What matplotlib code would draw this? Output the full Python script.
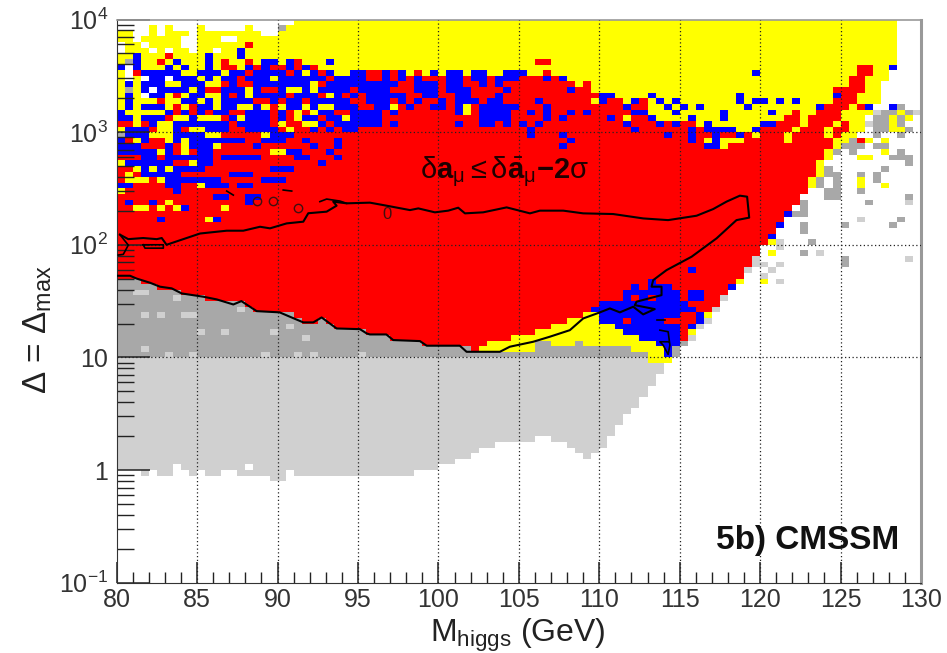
import numpy as np
import matplotlib
matplotlib.use('Agg')
import matplotlib.pyplot as plt
from matplotlib.colors import ListedColormap

plt.rcParams['font.family'] = ['Liberation Sans', 'DejaVu Sans']
plt.rcParams['mathtext.fontset'] = 'custom'
plt.rcParams['mathtext.rm'] = 'Liberation Sans'
plt.rcParams['mathtext.it'] = 'Liberation Sans'
plt.rcParams['mathtext.bf'] = 'Liberation Sans:bold'

# histogram: 100 x 100 bins, row 0 is the top row (delta 10^4)
mass_edges = np.linspace(80, 130, 101)
delta_edges = np.logspace(4, -1, 101)

# first row of each band, one value per mass bin
red_top = [9, 9, 9, 9, 9, 9, 9, 9, 9, 9,
           9, 9, 9, 9, 9, 9, 9, 9, 9, 9,
           9, 9, 9, 9, 9, 9, 9, 9, 9, 9,
           9, 9, 9, 10, 10, 10, 10, 10, 10, 10,
           10, 10, 10, 10, 10, 10, 10, 10, 10, 10,
           10, 10, 10, 10, 10, 10, 11, 12, 11, 13,
           13, 13, 14, 15, 15, 14, 17, 18, 18, 18,
           18, 17, 19, 19, 19, 20, 20, 21, 20, 19,
           19, 19, 18, 17, 16, 19, 17, 16, 15, 12,
           12, 10, 8, 8, 15, 11, 9, 0, 0, 0]
red_bottom = [46, 46, 46, 47, 47, 48, 48, 48, 49, 49,
              49, 50, 50, 50, 50, 50, 51, 52, 52, 52,
              52, 52, 53, 54, 54, 53, 54, 55, 55, 55,
              55, 56, 56, 56, 57, 57, 57, 57, 58, 58,
              58, 58, 58, 58, 59, 58, 57, 57, 57, 56,
              56, 56, 55, 55, 54, 54, 53, 53, 52, 52,
              58, 58, 58, 58, 59, 59, 59, 59, 59, 59,
              57, 56, 53, 52, 51, 49, 47, 46, 44, 42,
              40, 38, 36, 34, 33, 31, 28, 25, 23, 21,
              16, 15, 13, 10, 15, 11, 9, 0, 0, 0]
yellow_bottom = [46, 46, 46, 47, 47, 48, 48, 48, 49, 49,
                 49, 50, 50, 50, 50, 50, 51, 52, 52, 52,
                 52, 52, 53, 54, 54, 53, 54, 55, 55, 55,
                 55, 56, 56, 56, 57, 57, 57, 57, 58, 58,
                 58, 58, 58, 58, 59, 59, 59, 59, 59, 59,
                 59, 59, 57, 57, 58, 58, 58, 57, 58, 58,
                 58, 58, 58, 58, 59, 59, 61, 61, 61, 59,
                 57, 56, 53, 53, 51, 49, 47, 47, 44, 42,
                 40, 38, 36, 34, 33, 31, 30, 28, 25, 23,
                 22, 21, 20, 17, 15, 11, 9, 0, 0, 0]
dark_bottom = [60] * 66 + [61, 61, 61, 60, 58, 56, 53, 53, 51, 49, 47, 47, 44, 42,
                           40, 38, 36, 34, 33, 31, 30, 28, 25, 23,
                           22, 21, 20, 17, 15, 11, 9, 0, 0, 0]
light_bottom = [80, 80, 80, 81, 80, 81, 81, 80, 80, 81,
                80, 81, 81, 80, 80, 81, 81, 81, 81, 82,
                82, 80, 81, 81, 81, 81, 81, 81, 81, 81,
                81, 81, 81, 81, 81, 81, 81, 80, 80, 80,
                79, 79, 78, 78, 77, 76, 76, 75, 75, 75,
                75, 75, 74, 74, 75, 75, 76, 77, 78, 77,
                76, 74, 72, 70, 69, 67, 65, 63, 61, 60,
                58, 56, 53, 53, 51, 49, 47, 47, 44, 42,
                40, 38, 36, 34, 33, 31, 30, 28, 25, 23,
                22, 21, 20, 17, 15, 11, 9, 0, 0, 0]

# scattered cells as (row, first mass bin, last mass bin)
blue_cells = [(5, 15, 15), (6, 2, 2), (6, 11, 11), (6, 15, 15),
              (7, 2, 2), (7, 7, 7), (7, 11, 11), (7, 18, 19), (7, 21, 21), (7, 26, 26),
              (8, 0, 0), (8, 2, 2), (8, 6, 6), (8, 8, 8), (8, 11, 11), (8, 16, 16), (8, 18, 19),
              (8, 21, 21), (8, 23, 23), (8, 96, 96),
              (9, 3, 7), (9, 10, 12), (9, 14, 15), (9, 17, 20), (9, 22, 22), (9, 24, 24), (9, 26, 26),
              (9, 29, 30), (9, 33, 33), (9, 35, 35), (9, 39, 39), (9, 41, 42), (9, 44, 45), (9, 48, 50),
              (9, 79, 79),
              (10, 4, 5), (10, 7, 9), (10, 11, 11), (10, 13, 14), (10, 16, 18), (10, 20, 25), (10, 27, 30),
              (10, 33, 33), (10, 35, 35), (10, 37, 37), (10, 41, 42), (10, 44, 45), (10, 47, 49),
              (10, 53, 53), (10, 55, 55),
              (11, 1, 1), (11, 3, 5), (11, 8, 10), (11, 14, 14), (11, 17, 23), (11, 26, 34), (11, 37, 39),
              (11, 41, 42), (11, 45, 45), (11, 47, 47),
              (12, 3, 3), (12, 5, 8), (12, 10, 10), (12, 13, 15), (12, 17, 17), (12, 20, 20), (12, 23, 23),
              (12, 25, 28), (12, 30, 33), (12, 37, 39), (12, 41, 43), (12, 48, 48), (12, 56, 56),
              (13, 1, 1), (13, 4, 5), (13, 9, 10), (13, 13, 13), (13, 15, 15), (13, 17, 20), (13, 22, 24),
              (13, 27, 27), (13, 29, 29), (13, 31, 35), (13, 38, 39), (13, 42, 43), (13, 47, 47),
              (13, 60, 61), (13, 66, 66), (13, 77, 77), (13, 89, 89),
              (14, 1, 1), (14, 8, 9), (14, 11, 11), (14, 13, 16), (14, 19, 19), (14, 21, 22), (14, 24, 28),
              (14, 31, 33), (14, 35, 35), (14, 37, 37), (14, 40, 40), (14, 42, 44), (14, 46, 47), (14, 52, 52),
              (14, 60, 60), (14, 64, 64), (14, 67, 67), (14, 69, 69), (14, 77, 77), (14, 79, 80), (14, 82, 82),
              (14, 84, 84),
              (15, 1, 1), (15, 3, 5), (15, 10, 11), (15, 13, 14), (15, 17, 17), (15, 21, 22), (15, 24, 24),
              (15, 27, 29), (15, 32, 33), (15, 36, 36), (15, 39, 40), (15, 42, 42), (15, 45, 49), (15, 53, 53),
              (15, 63, 63), (15, 68, 68), (15, 70, 70), (15, 72, 72), (15, 78, 78), (15, 87, 87), (15, 93, 93),
              (15, 96, 96),
              (16, 0, 0), (16, 6, 6), (16, 8, 8), (16, 10, 10), (16, 12, 13), (16, 16, 18), (16, 20, 20),
              (16, 25, 26), (16, 29, 32), (16, 34, 34), (16, 42, 43), (16, 45, 48), (16, 51, 51), (16, 53, 53),
              (16, 56, 56), (16, 58, 58), (16, 64, 65), (16, 69, 69), (16, 75, 75), (16, 81, 81),
              (17, 0, 1), (17, 3, 5), (17, 9, 9), (17, 14, 14), (17, 16, 18), (17, 20, 20), (17, 23, 24),
              (17, 26, 27), (17, 29, 32), (17, 45, 48), (17, 53, 53), (17, 55, 55), (17, 61, 61), (17, 66, 66),
              (17, 71, 71), (17, 75, 75),
              (18, 4, 4), (18, 7, 13), (18, 15, 18), (18, 25, 25), (18, 27, 32), (18, 34, 34), (18, 42, 42),
              (18, 45, 46), (18, 48, 48), (18, 50, 50), (18, 52, 52), (18, 63, 63), (18, 67, 67), (18, 69, 69),
              (18, 73, 73), (18, 80, 81),
              (19, 1, 3), (19, 7, 7), (19, 11, 13), (19, 16, 19), (19, 24, 24), (19, 26, 26), (19, 28, 29),
              (19, 51, 51), (19, 64, 64), (19, 71, 71), (19, 73, 76), (19, 79, 79),
              (20, 1, 3), (20, 7, 10), (20, 19, 21), (20, 51, 51), (20, 55, 55), (20, 68, 68), (20, 71, 71),
              (20, 74, 74), (20, 77, 77), (20, 94, 94),
              (21, 0, 0), (21, 3, 3), (21, 7, 7), (21, 9, 15), (21, 18, 20), (21, 23, 23), (21, 27, 27),
              (21, 56, 56), (21, 71, 71), (21, 74, 74),
              (22, 0, 2), (22, 6, 6), (22, 9, 11), (22, 17, 17), (22, 24, 24), (22, 27, 27), (22, 55, 55),
              (22, 73, 74),
              (23, 0, 4), (23, 6, 6), (23, 10, 11), (23, 21, 22), (23, 26, 26),
              (24, 3, 4), (24, 6, 11), (24, 13, 14), (24, 15, 17), (24, 22, 23), (24, 27, 27),
              (25, 1, 6), (25, 10, 11), (25, 25, 25),
              (26, 3, 3), (26, 5, 5), (26, 7, 8), (26, 9, 10), (26, 19, 21),
              (27, 3, 5), (27, 6, 7), (27, 14, 16),
              (28, 6, 9), (28, 10, 12), (28, 18, 20),
              (29, 0, 1), (29, 6, 7), (29, 11, 13), (29, 15, 16),
              (30, 7, 7), (31, 12, 13), (31, 16, 17), (32, 1, 1), (32, 4, 4), (32, 16, 16), (33, 8, 8),
              (35, 5, 5), (35, 12, 12),
              (34, 83, 83), (36, 82, 82), (38, 81, 81), (44, 71, 71), (46, 66, 66), (47, 76, 76),
              (47, 64, 64), (47, 66, 68),
              (48, 63, 69), (48, 71, 72), (49, 63, 69), (49, 71, 72), (50, 60, 70),
              (51, 59, 71), (52, 60, 69), (52, 72, 72), (53, 60, 69), (53, 72, 72),
              (54, 62, 69), (54, 71, 71), (55, 63, 69), (56, 65, 69), (57, 67, 69), (58, 68, 69), (59, 68, 68)]
yellow_cells = [(4, 1, 3), (6, 0, 1), (7, 0, 0), (9, 0, 0), (9, 8, 9), (9, 13, 13), (9, 23, 23),
                (9, 27, 28), (10, 0, 0), (10, 2, 2), (10, 10, 10), (10, 12, 12), (10, 19, 19),
                (11, 0, 0), (11, 2, 2), (11, 6, 7), (11, 11, 12), (11, 24, 24),
                (12, 0, 0), (12, 2, 2), (12, 9, 9), (12, 16, 16), (12, 21, 22), (12, 24, 24),
                (13, 0, 0), (13, 2, 2), (13, 6, 6), (13, 8, 8), (13, 11, 12), (13, 16, 16), (13, 26, 26),
                (14, 0, 0), (14, 2, 4), (14, 6, 7), (14, 10, 10), (14, 12, 12), (14, 59, 59),
                (15, 0, 0), (15, 2, 2), (15, 6, 6), (15, 8, 8), (15, 12, 12), (15, 15, 16), (15, 18, 18),
                (15, 20, 20), (15, 23, 23), (15, 25, 26), (15, 34, 34), (15, 43, 43), (15, 91, 91),
                (16, 1, 5), (16, 22, 22), (16, 24, 24), (16, 43, 43),
                (17, 2, 2), (17, 7, 8), (17, 10, 12), (17, 15, 15), (17, 22, 22), (17, 28, 28), (17, 63, 63),
                (18, 2, 2), (18, 5, 6), (18, 20, 20), (18, 23, 24), (18, 72, 72), (18, 89, 89),
                (19, 0, 0), (19, 5, 6), (19, 9, 10), (19, 21, 21), (19, 84, 84), (19, 88, 88),
                (20, 4, 6), (20, 11, 12), (20, 18, 18), (20, 79, 79), (20, 83, 83), (20, 88, 88),
                (21, 2, 2), (21, 6, 6), (21, 8, 8), (21, 73, 73), (21, 75, 77), (21, 83, 83),
                (22, 8, 8), (22, 12, 12), (22, 75, 75), (23, 5, 5), (23, 8, 8), (23, 19, 20),
                (25, 0, 0), (25, 9, 9), (26, 2, 2), (26, 4, 4), (26, 6, 6),
                (27, 1, 1), (28, 1, 3), (28, 5, 5), (29, 10, 10), (30, 0, 0), (32, 6, 6),
                (33, 2, 3), (33, 5, 5), (33, 7, 7), (33, 13, 13), (35, 11, 11),
                (24, 92, 93), (28, 92, 92), (29, 92, 92), (29, 95, 95), (21, 93, 93), (21, 95, 95), (23, 95, 95),
                (16, 97, 97), (17, 96, 96), (17, 98, 98), (18, 96, 96), (19, 96, 97),
                (39, 81, 81), (41, 81, 81), (46, 80, 80), (46, 77, 77), (52, 73, 73), (55, 71, 71),
                (54, 60, 61), (55, 60, 62), (56, 60, 64), (57, 60, 66), (58, 64, 67), (59, 66, 67), (60, 66, 68)]
red_cells = [(4, 16, 16), (6, 6, 6), (7, 5, 5), (7, 13, 13), (7, 16, 16), (7, 22, 22), (7, 52, 53),
             (8, 13, 14), (8, 17, 17), (8, 19, 20), (8, 22, 22), (8, 24, 24), (9, 16, 16), (9, 21, 21),
             (9, 25, 25), (9, 34, 34), (9, 37, 37), (9, 53, 53),
             (10, 15, 15), (10, 26, 26), (11, 13, 13), (11, 15, 16), (11, 35, 35), (12, 11, 12), (12, 18, 19),
             (12, 29, 29), (13, 7, 7), (13, 14, 14), (13, 21, 21), (13, 25, 25), (13, 28, 28), (13, 30, 30),
             (13, 41, 41), (14, 5, 5), (14, 17, 18), (14, 20, 20), (14, 23, 23), (14, 29, 30),
             (15, 7, 7), (15, 9, 9), (15, 19, 19), (15, 30, 31), (15, 92, 92),
             (49, 64, 64), (49, 66, 66), (52, 71, 71), (53, 63, 63), (53, 68, 69), (53, 71, 71),
             (54, 70, 70), (55, 70, 70), (56, 70, 70), (18, 90, 90), (19, 89, 90), (20, 89, 89),
             (21, 88, 88), (22, 88, 88), (21, 92, 92)]
white_cells = [(0, 0, 21), (1, 0, 3), (1, 5, 5), (1, 7, 9), (1, 11, 15), (1, 17, 19),
               (2, 2, 3), (2, 5, 5), (2, 9, 9), (2, 18, 19), (3, 2, 2), (3, 8, 9), (3, 13, 14),
               (4, 0, 0), (4, 3, 3), (4, 8, 9), (5, 0, 0), (5, 4, 4), (5, 6, 6), (5, 9, 9), (5, 12, 12),
               (8, 1, 1), (9, 1, 1), (10, 1, 1), (10, 3, 3), (10, 6, 6), (12, 4, 4), (13, 3, 3),
               (79, 7, 7), (79, 16, 16)]
gray_cells = [(1, 20, 20), (7, 1, 1), (12, 1, 1), (20, 0, 0),
              (15, 97, 97), (16, 95, 96), (16, 98, 98), (17, 94, 95), (17, 97, 97), (18, 93, 95), (18, 97, 97),
              (19, 94, 95), (19, 98, 98), (20, 94, 94), (20, 97, 97), (21, 91, 91),
              (22, 90, 92), (22, 94, 95), (23, 89, 89), (23, 91, 91), (23, 97, 97),
              (24, 96, 98), (25, 98, 98), (26, 88, 88), (26, 95, 95), (27, 88, 89), (27, 92, 92), (27, 94, 94),
              (28, 87, 87), (28, 89, 89), (28, 94, 94), (29, 87, 87), (29, 89, 89), (30, 88, 89), (30, 92, 92),
              (31, 88, 89), (31, 98, 98), (32, 85, 85), (32, 93, 93), (33, 85, 85), (34, 84, 85),
              (35, 97, 97), (36, 85, 85), (36, 90, 90), (36, 96, 96), (37, 85, 85), (39, 86, 86),
              (41, 85, 85), (42, 90, 90), (43, 90, 90), (58, 69, 69), (57, 70, 70)]
light_cells = [(16, 94, 94), (16, 99, 99), (18, 93, 93), (32, 98, 98), (35, 92, 92), (39, 82, 82), (40, 82, 82),
               (41, 87, 87), (42, 79, 79), (42, 98, 98), (43, 79, 80), (43, 82, 82), (44, 78, 78), (44, 81, 81),
               (45, 80, 80), (46, 82, 82), (49, 75, 75), (51, 74, 74), (53, 73, 73), (54, 72, 72), (56, 71, 71),
               (48, 2, 3), (49, 7, 7), (51, 15, 15), (52, 3, 3), (52, 5, 5), (52, 8, 9), (54, 21, 21),
               (55, 10, 10), (55, 13, 13), (55, 19, 19), (56, 23, 23), (58, 3, 3),
               (59, 6, 6), (59, 9, 9), (59, 18, 18), (59, 22, 22), (59, 24, 24), (59, 30, 30)]

# delta = 0 contour
contour_mass = [80.2, 80.72, 81.65, 82.49, 82.8, 83.1, 83.93, 85.18, 86.84, 87.87, 88.91, 89.53, 90.57, 91.6,
                91.91, 93.05, 93.67, 93.46, 94.29, 95.74, 96.78, 98.23, 98.75, 99.78, 100.61, 101.23, 101.65,
                102.78, 104.24, 105.69, 106.31, 107.76, 109.0, 110.86, 112.73, 114.28, 116.05, 117.08, 117.91,
                118.74, 119.19, 119.32, 118.53, 117.29, 115.74, 114.18, 113.35, 113.25, 113.87, 113.87, 112.32,
                112.21, 113.45, 112.73, 112.11, 111.28, 110.66, 110.04, 109.0, 108.17, 106.93, 105.89, 104.44,
                103.82, 101.75, 101.33, 99.27, 98.85, 97.19, 96.76, 95.74, 95.54, 95.12, 93.67, 92.74, 92.22,
                91.6, 90.77, 90.13, 88.7, 87.75, 87.25, 86.22, 85.38, 84.04, 83.42, 82.69, 82.07, 81.24, 80.83, 80.0]
contour_logdelta = [2.09, 2.05, 2.06, 2.05, 2.06, 2.0, 2.04, 2.1, 2.125, 2.125, 2.16, 2.146, 2.19, 2.205,
                    2.28, 2.294, 2.347, 2.383, 2.368, 2.374, 2.347, 2.308, 2.323, 2.288, 2.303, 2.329, 2.279,
                    2.288, 2.332, 2.279, 2.303, 2.303, 2.279, 2.273, 2.234, 2.219, 2.258, 2.317, 2.383,
                    2.436, 2.427, 2.241, 2.219, 2.057, 1.894, 1.775, 1.686, 1.628, 1.628, 1.553, 1.495,
                    1.464, 1.429, 1.382, 1.45, 1.4, 1.435, 1.4, 1.346, 1.242, 1.184, 1.139, 1.095,
                    1.05, 1.05, 1.104, 1.104, 1.145, 1.154, 1.204, 1.204, 1.213, 1.251, 1.257, 1.355, 1.311,
                    1.311, 1.361, 1.4, 1.411, 1.5, 1.47, 1.515, 1.539, 1.568, 1.613, 1.628, 1.663, 1.7, 1.725, 1.725]
# small closed pieces of the same contour
pieces_mass = [[80.2, 80.72, 80.41, 80.1],
               [81.65, 82.9, 82.9, 81.76, 81.65],
               [86.84, 87.25], [90.35, 90.88],
               [92.63, 93.05, 93.88, 94.29],
               [113.77, 114.28, 114.39, 114.28, 113.97, 113.77, 114.28],
               [113.6, 114.1]]
pieces_logdelta = [[2.09, 1.997, 1.915, 1.909],
                   [2.0, 2.0, 1.97, 1.97, 2.0],
                   [2.477, 2.441], [2.486, 2.477],
                   [2.383, 2.406, 2.388, 2.368],
                   [1.242, 1.228, 1.109, 1.027, 1.109, 1.139, 1.139],
                   [1.331, 1.331]]
ring_mass = [91.29, 88.7, 89.73]
ring_logdelta = [2.329, 2.388, 2.388]

xticks_major = [80, 85, 90, 95, 100, 105, 110, 115, 120, 125, 130]
yticks_major = [0.1, 1, 10, 100, 1000, 10000]
ytick_labels = ['10$^{-1}$', '1', '10', '10$^{2}$', '10$^{3}$', '10$^{4}$']

# build the cell grid
W, Y, R, B, G, L = 0, 1, 2, 3, 4, 5
grid = np.zeros((100, 100), dtype=int)
for c in range(100):
    if c > 96:
        continue
    grid[0:red_top[c], c] = Y
    grid[red_top[c]:red_bottom[c], c] = R
    grid[red_bottom[c]:yellow_bottom[c], c] = Y
    grid[yellow_bottom[c]:dark_bottom[c], c] = G
    grid[dark_bottom[c]:light_bottom[c], c] = L

for cells, code in [(blue_cells, B), (yellow_cells, Y), (red_cells, R),
                    (white_cells, W), (gray_cells, G), (light_cells, L)]:
    for row, c0, c1 in cells:
        grid[row, c0:c1 + 1] = code

cmap = ListedColormap(['white', '#ffff00', '#ff0000', '#0000ff', '#a8a8a8', '#d0d0d0'])

fig = plt.figure(figsize=(9.47, 6.53), dpi=100)
ax = fig.add_axes([116.7 / 947, 1 - 582.7 / 653, 804.3 / 947, 563.2 / 653])
ax.pcolormesh(mass_edges, delta_edges, grid, cmap=cmap, vmin=0, vmax=5, rasterized=True)

ax.set_yscale('log')
ax.set_xlim(80, 130)
ax.set_ylim(0.1, 10000)

# contour
ax.plot(contour_mass, 10 ** np.array(contour_logdelta), color='black', lw=1.5, zorder=4)
for m, d in zip(pieces_mass, pieces_logdelta):
    ax.plot(m, 10 ** np.array(d), color='black', lw=1.2, zorder=4)
ax.plot(ring_mass, 10 ** np.array(ring_logdelta), ls='none', marker='o', ms=6, mfc='none', mec='#401010', mew=1, zorder=4)
ax.text(96.78, 10 ** 2.273, '0', fontsize=12, color='#401010', ha='center', va='center', zorder=4)

# grid and ticks
ax.set_xticks(xticks_major)
ax.set_xticks(np.arange(80, 131, 1), minor=True)
ax.set_yticks(yticks_major)
ax.set_yticklabels(ytick_labels)
ax.yaxis.set_minor_locator(matplotlib.ticker.LogLocator(base=10, subs=np.arange(2, 10), numticks=12))
ax.yaxis.set_minor_formatter(matplotlib.ticker.NullFormatter())
ax.tick_params(axis='x', which='major', direction='in', length=15, width=1.1, labelsize=18, pad=4, color='#222222')
ax.tick_params(axis='x', which='minor', direction='in', length=8, width=1, color='#222222')
ax.tick_params(axis='y', which='major', direction='in', length=24, width=1.1, labelsize=18, pad=6, color='#222222')
ax.tick_params(axis='y', which='minor', direction='in', length=12, width=1, color='#222222')
ax.tick_params(labelcolor='#333333')
for v in xticks_major[1:-1]:
    ax.axvline(v, color='#222222', lw=0.9, ls=(0, (1, 2)), zorder=3)
for v in yticks_major[2:5]:
    ax.axhline(v, color='#222222', lw=0.9, ls=(0, (1, 2)), zorder=3)

ax.spines['left'].set_color('#333333')
ax.spines['bottom'].set_color('#333333')
ax.spines['top'].set_color('#999999')
ax.spines['right'].set_color('#999999')
ax.spines['top'].set_linewidth(1.2)
ax.spines['right'].set_linewidth(2.2)

# labels
fig.text(518 / 947, 1 - 635 / 653, r'M$_{\mathrm{higgs}}$ (GeV)', fontsize=23, ha='center', va='center', color='#222222')
fig.text(38 / 947, 1 - 330 / 653, r'$\Delta$ = $\Delta_{\mathrm{max}}$', fontsize=24, rotation=90,
         ha='center', va='center', color='#222222')
ax.text(98.85, 10 ** 2.645, r'$\delta\mathbf{a}_{\mu}\leq\delta\bar{\mathbf{a}}_{\mu}\mathbf{-2}\sigma$',
        fontsize=21, color='#200000', ha='left', va='center', zorder=5)
fig.text(808 / 947, 1 - 541 / 653, '5b) CMSSM', fontsize=24, fontweight='bold', ha='center', va='center', color='#111111')

plt.savefig('out.png', dpi=100)
